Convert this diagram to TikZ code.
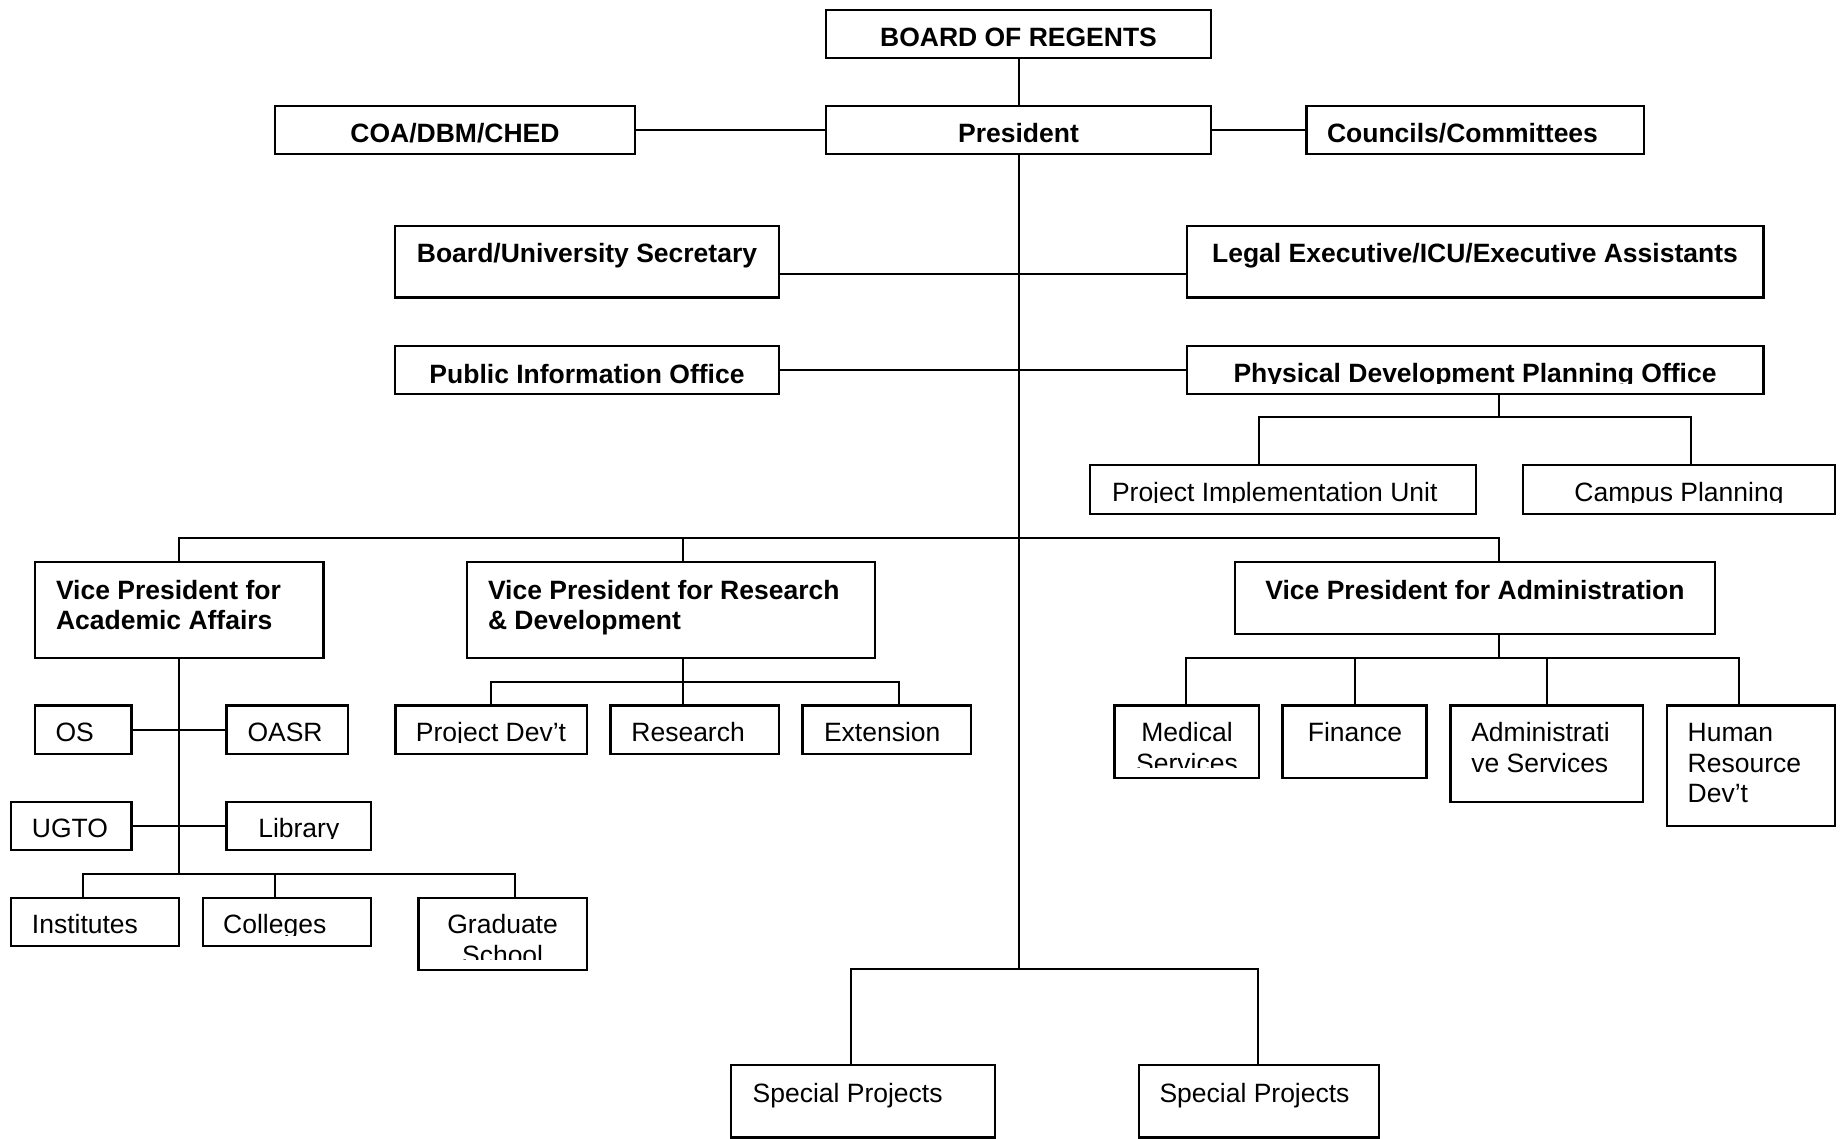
\documentclass[tikz,border=0pt]{standalone}
\usepackage{fontspec}
\setmainfont{Liberation Sans}
\newcommand\mytab[2]{\begin{tabular}[t]{@{}#1@{}}#2\end{tabular}}
\begin{document}
\begin{tikzpicture}[x=1pt,y=-1pt,
  box/.style={draw,line width=2.2pt,inner sep=0pt,outer sep=0pt,anchor=north west},
  txt/.style={inner sep=0pt,outer sep=0pt,yshift=-1pt,font=\fontsize{26.5}{30.5}\selectfont},
  btxt/.style={txt,font=\fontsize{26.5}{30.5}\selectfont\bfseries},
  conn/.style={line width=2pt,line join=miter}]
\fill[white] (0,0) rectangle (1841,1139);
\useasboundingbox (0,0) rectangle (1841,1139);
% ---------- boxes ----------
\node[box,minimum width=385pt,minimum height=48pt] (bor) at (826,10) {};
\node[box,minimum width=385pt,minimum height=48pt] (pres) at (826,106) {};
\node[box,minimum width=360pt,minimum height=48pt] (coa) at (275,106) {};
\node[box,minimum width=337.5pt,minimum height=48pt] (coun) at (1306.5,106) {};
\node[box,minimum width=384pt,minimum height=71.5pt] (bsec) at (395,226) {};
\node[box,minimum width=576.5pt,minimum height=71.5pt] (legal) at (1187,226) {};
\node[box,minimum width=384pt,minimum height=48pt] (pio) at (395,346) {};
\node[box,minimum width=576.5pt,minimum height=48pt] (pdpo) at (1187,346) {};
\node[box,minimum width=385.4pt,minimum height=49pt] (piu) at (1090.3,465.3) {};
\node[box,minimum width=312.3pt,minimum height=49pt] (camp) at (1522.7,465.3) {};
\node[box,minimum width=288.4pt,minimum height=95.9pt] (vpaa) at (35,561.8) {};
\node[box,minimum width=408.1pt,minimum height=95.9pt] (vprd) at (466.9,561.8) {};
\node[box,minimum width=480.4pt,minimum height=72.2pt] (vpa) at (1234.8,561.8) {};
\node[box,minimum width=96.4pt,minimum height=48.6pt] (os) at (35,705.4) {};
\node[box,minimum width=121.2pt,minimum height=48.6pt] (oasr) at (226.4,705.4) {};
\node[box,minimum width=191.4pt,minimum height=48.6pt] (pdev) at (395.4,705.4) {};
\node[box,minimum width=168.3pt,minimum height=48.6pt] (res) at (610.4,705.4) {};
\node[box,minimum width=168.3pt,minimum height=48.6pt] (ext) at (802.4,705.4) {};
\node[box,minimum width=120.6pt,minimum height=48.1pt] (ugto) at (10.8,801.7) {};
\node[box,minimum width=144.8pt,minimum height=48.1pt] (lib) at (226.4,801.7) {};
\node[box,minimum width=167.8pt,minimum height=47.8pt] (inst) at (10.8,897.9) {};
\node[box,minimum width=168.4pt,minimum height=47.8pt] (coll) at (202.8,897.9) {};
\node[box,minimum width=168.4pt,minimum height=71.9pt] (grad) at (418.4,897.9) {};
\node[box,minimum width=144.4pt,minimum height=72.6pt] (med) at (1114.5,705.4) {};
\node[box,minimum width=143.9pt,minimum height=72.6pt] (fin) at (1282.5,705.4) {};
\node[box,minimum width=192.2pt,minimum height=96.6pt] (adm) at (1450.5,705.4) {};
\node[box,minimum width=168pt,minimum height=120.3pt] (hrd) at (1666.9,705.4) {};
\node[box,minimum width=263.8pt,minimum height=72.3pt] (sp1) at (731,1065.2) {};
\node[box,minimum width=239.9pt,minimum height=72.3pt] (sp2) at (1138.7,1065.2) {};
% ---------- texts ----------
\node[btxt,anchor=base] (borT) at (1018.5,46) {BOARD OF REGENTS};
\node[btxt,anchor=base] (presT) at (1018.5,142) {President};
\node[btxt,anchor=base] (coaT) at (455,142) {COA/DBM/CHED};
\node[btxt,anchor=base west] (counT) at (1327,142) {Councils/Committees};
\node[btxt,anchor=base] (bsecT) at (587,262) {Board/University Secretary};
\node[btxt,anchor=base] (legalT) at (1475,262) {Legal Executive/ICU/Executive Assistants};
\node[btxt,anchor=base] (pioT) at (587,382) {Public Information Office};
\begin{scope}
\clip (1188,347) rectangle (1762,383.5);
\node[btxt,anchor=base] (pdpoT) at (1475,381.5) {Physical Development Planning Office};
\end{scope}
\begin{scope}
\clip (1091,466) rectangle (1835,502.8);
\node[txt,anchor=base west] (piuT) at (1112,500.7) {Project Implementation Unit};
\node[txt,anchor=base] (campT) at (1679,500.7) {Campus Planning};
\end{scope}
\node[btxt,anchor=base west] (vpaaT) at (56,598) {\mytab{l}{Vice President for\\Academic Affairs}};
\node[btxt,anchor=base west] (vprdT) at (488,598) {\mytab{l}{Vice President for Research\\\& Development}};
\node[btxt,anchor=base] (vpaT) at (1475,598) {Vice President for Administration};
\node[txt,anchor=base west] (osT) at (55.5,740.6) {OS};
\node[txt,anchor=base west] (oasrT) at (247.5,740.6) {OASR};
\begin{scope}
\clip (396,706) rectangle (586,742);
\node[txt,anchor=base] (pdevT) at (491,740.6) {Project Dev’t};
\end{scope}
\node[txt,anchor=base west] (resT) at (631.4,740.6) {Research};
\node[txt,anchor=base west] (extT) at (824,740.6) {Extension};
\node[txt,anchor=base west] (ugtoT) at (31.9,836.4) {UGTO};
\begin{scope}
\clip (227,802) rectangle (370,838.3);
\node[txt,anchor=base] (libT) at (298.8,836.4) {Library};
\end{scope}
\node[txt,anchor=base west] (instT) at (31.9,932.7) {Institutes};
\begin{scope}
\clip (203.5,898.5) rectangle (370.5,935.2);
\node[txt,anchor=base west] (collT) at (223.2,932.7) {Colleges};
\end{scope}
\begin{scope}
\clip (419,898.5) rectangle (586,959);
\node[txt,anchor=base] (gradT) at (502.6,932.7) {\mytab{c}{Graduate\\School}};
\end{scope}
\begin{scope}
\clip (1115,706) rectangle (1258,767.5);
\node[txt,anchor=base] (medT) at (1187,740.6) {\mytab{c}{Medical\\Services}};
\end{scope}
\node[txt,anchor=base] (finT) at (1355,740.6) {Finance};
\node[txt,anchor=base west] (admT) at (1471.3,740.6) {\mytab{l}{Administrati\\ve Services}};
\node[txt,anchor=base west] (hrdT) at (1687.7,740.6) {\mytab{l}{Human\\Resource\\Dev’t}};
\node[txt,anchor=base west] (sp1T) at (752.6,1101) {Special Projects};
\node[txt,anchor=base west] (sp2T) at (1159.5,1101) {Special Projects};
% ---------- connectors ----------
\coordinate (tb) at (1018.5,969.4);
\coordinate (secbus) at (0,273.6);
\coordinate (vpL) at (178.6,537.5);
\coordinate (vpM) at (683,537.5);
\coordinate (vpR) at (1498.6,537.5);
\coordinate (pdJ) at (1498.6,417);
\coordinate (pdL) at (1259,417);
\coordinate (pdR) at (1691.2,417);
\coordinate (aaJ) at (178.6,873.9);
\coordinate (aaL) at (82.9,873.9);
\coordinate (aaM) at (274.9,873.9);
\coordinate (aaR) at (514.7,873.9);
\coordinate (rdL) at (491,681.7);
\coordinate (rdM) at (683,681.7);
\coordinate (rdR) at (899.3,681.7);
\coordinate (adL) at (1186.4,658);
\coordinate (adF) at (1354.5,658);
\coordinate (adM) at (1498.9,658);
\coordinate (adA) at (1546.6,658);
\coordinate (adR) at (1738.8,658);
\coordinate (spL) at (851,969.4);
\coordinate (spR) at (1258.4,969.4);
\draw[conn] (bor.south) -- (pres.north);
\draw[conn] (coa.east) -- (pres.west);
\draw[conn] (pres.east) -- (coun.west);
\draw[conn] (pres.south) -- (tb);
\draw[conn] (bsec.east |- secbus) -- (legal.west |- secbus);
\draw[conn] (pio.east) -- (pdpo.west);
\draw[conn] (pdJ |- pdpo.south) -- (pdJ);
\draw[conn] (pdL |- piu.north) -- (pdL) -- (pdR) -- (pdR |- camp.north);
\draw[conn] (vpL |- vpaa.north) -- (vpL) -- (vpR) -- (vpR |- vpa.north);
\draw[conn] (vpM) -- (vpM |- vprd.north);
\draw[conn] (aaJ |- vpaa.south) -- (aaJ);
\draw[conn] (os.east) -- (oasr.west);
\draw[conn] (ugto.east) -- (lib.west);
\draw[conn] (aaL |- inst.north) -- (aaL) -- (aaR) -- (aaR |- grad.north);
\draw[conn] (aaM) -- (aaM |- coll.north);
\draw[conn] (rdM |- vprd.south) -- (rdM) -- (rdM |- res.north);
\draw[conn] (rdL |- pdev.north) -- (rdL) -- (rdR) -- (rdR |- ext.north);
\draw[conn] (adM |- vpa.south) -- (adM);
\draw[conn] (adL |- med.north) -- (adL) -- (adR) -- (adR |- hrd.north);
\draw[conn] (adF) -- (adF |- fin.north);
\draw[conn] (adA) -- (adA |- adm.north);
\draw[conn] (spL |- sp1.north) -- (spL) -- (spR) -- (spR |- sp2.north);
\end{tikzpicture}
\end{document}
